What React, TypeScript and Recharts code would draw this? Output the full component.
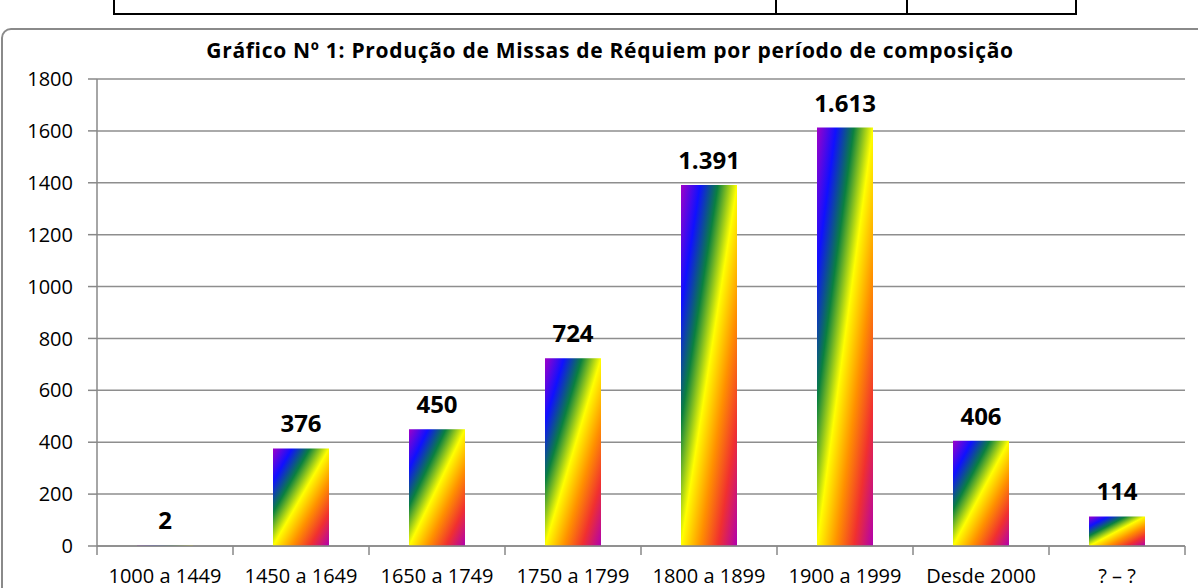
import { BarChart, Bar, XAxis, YAxis, CartesianGrid, LabelList } from "recharts";

const periods = [
  "1000 a 1449",
  "1450 a 1649",
  "1650 a 1749",
  "1750 a 1799",
  "1800 a 1899",
  "1900 a 1999",
  "Desde 2000",
  "? – ?",
];
const missas = [2, 376, 450, 724, 1391, 1613, 406, 114];
const yTicks = [0, 200, 400, 600, 800, 1000, 1200, 1400, 1600, 1800];
const title = "Gráfico Nº 1: Produção de Missas de Réquiem por período de composição";

const data = periods.map((p, i) => ({ periodo: p, total: missas[i] }));

const FONT = "'Open Sans', sans-serif";
const W = 1198;
const H = 588;
const M = { top: 79, right: 13, bottom: 0, left: 0 };
const Y_W = 97;
const HALF = (W - M.right - Y_W) / periods.length / 2;

// 1391 -> "1.391"
const fmt = (v: any) => String(v).replace(/\B(?=(\d{3})+(?!\d))/g, ".");

const XTick = (props: any) => {
  const { x, y, payload, index } = props;
  const last = index === periods.length - 1;
  return (
    <g>
      <line x1={x - HALF} x2={x - HALF} y1={y} y2={y + 9} stroke="#888" strokeWidth={1.5} />
      {last && <line x1={x + HALF} x2={x + HALF} y1={y} y2={y + 9} stroke="#888" strokeWidth={1.5} />}
      <text x={x} y={y + 29} textAnchor="middle" dominantBaseline="central" fontSize={20} fontFamily={FONT} fill="#000">
        {payload.value}
      </text>
    </g>
  );
};

export default function App() {
  return (
    <div style={{ position: "absolute", left: 0, top: 0, width: W, height: H, overflow: "hidden", background: "#fff" }}>
      <svg width={0} height={0} style={{ position: "absolute" }}>
        <defs>
          <linearGradient id="arcoiris" x1="0" y1="0" x2="1" y2="1">
            <stop offset="0" stopColor="#a000c8" />
            <stop offset="0.17" stopColor="#1010ff" />
            <stop offset="0.33" stopColor="#0a8040" />
            <stop offset="0.5" stopColor="#ffff00" />
            <stop offset="0.67" stopColor="#ff9000" />
            <stop offset="0.83" stopColor="#f03030" />
            <stop offset="1" stopColor="#b000b0" />
          </linearGradient>
        </defs>
      </svg>

      {/* table border above the chart */}
      <div style={{ position: "absolute", left: 113, top: 13, width: 964, height: 2, background: "#000" }} />
      {[113, 775, 906, 1075].map((x) => (
        <div key={x} style={{ position: "absolute", left: x, top: 0, width: 2, height: 15, background: "#000" }} />
      ))}

      {/* chart frame */}
      <div
        style={{
          position: "absolute",
          left: 1,
          top: 28,
          width: W + 20,
          height: H,
          border: "2px solid #8a8a8a",
          borderRadius: 10,
        }}
      />

      <div
        style={{
          position: "absolute",
          left: 0,
          top: 36,
          width: 1220,
          textAlign: "center",
          fontFamily: FONT,
          fontWeight: 700,
          fontSize: 21,
          letterSpacing: 0.7,
          lineHeight: "28px",
          color: "#000",
        }}
      >
        {title}
      </div>

      <div style={{ position: "absolute", left: 0, top: 0 }}>
        <BarChart width={W} height={H} data={data} margin={M} barSize={56}>
          <CartesianGrid vertical={false} stroke="#8e8e8e" strokeWidth={1.5} />
          <XAxis
            dataKey="periodo"
            height={42}
            axisLine={{ stroke: "#888", strokeWidth: 1.5 }}
            tickLine={false}
            tickSize={0}
            tickMargin={0}
            tick={<XTick />}
            interval={0}
          />
          <YAxis
            width={Y_W}
            domain={[0, 1800]}
            ticks={yTicks}
            interval={0}
            axisLine={{ stroke: "#888", strokeWidth: 1.5 }}
            tickLine={{ stroke: "#888", strokeWidth: 1.5 }}
            tickSize={9}
            tickMargin={15}
            tick={{ fontSize: 20, fontFamily: FONT, fill: "#000" }}
          />
          <Bar dataKey="total" fill="url(#arcoiris)" isAnimationActive={false}>
            <LabelList
              dataKey="total"
              position="top"
              offset={16}
              formatter={fmt}
              style={{ fontSize: 24, fontWeight: 700, fontFamily: FONT, fill: "#000" }}
            />
          </Bar>
        </BarChart>
      </div>
    </div>
  );
}
